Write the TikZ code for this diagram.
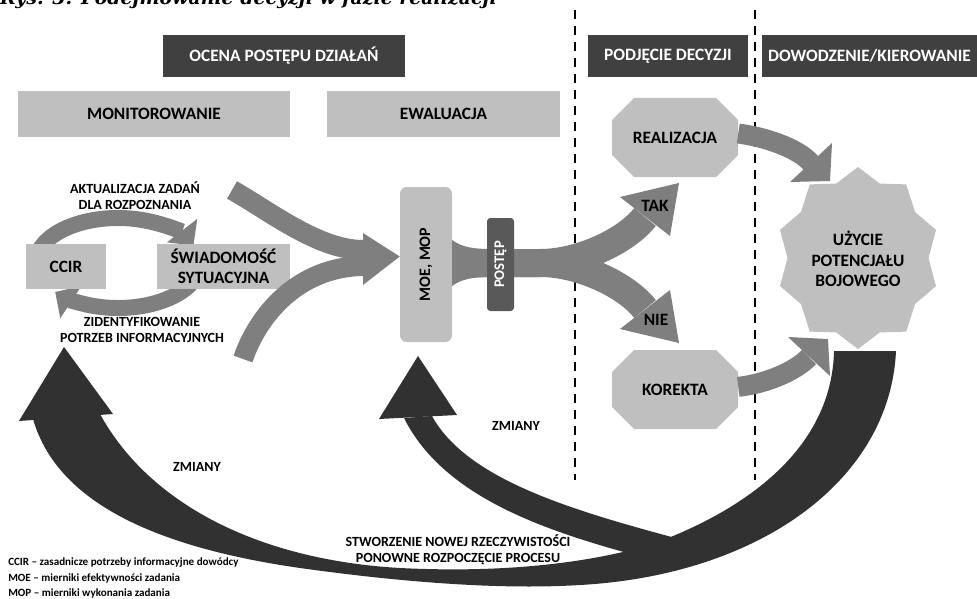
\documentclass[tikz,border=0pt]{standalone}
\usepackage{fontspec}
\setmainfont{Carlito}
\newfontfamily\titlefont{DejaVu Serif}
\usetikzlibrary{arrows.meta}
\definecolor{hdr}{HTML}{404040}
\definecolor{boxg}{HTML}{BFBFBF}
\definecolor{arrg}{HTML}{7F7F7F}
\definecolor{darka}{HTML}{323132}
\definecolor{postc}{HTML}{595959}
\begin{document}
\begin{tikzpicture}[x=0.75pt,y=-0.75pt,
  hdrbox/.style={fill=hdr, text=white, inner sep=0pt, minimum height=31.5pt, font=\bfseries\fontsize{13}{15}\selectfont},
  graybox/.style={fill=boxg, inner sep=0pt, minimum height=34.5pt, align=center, font=\bfseries\fontsize{13}{15}\selectfont},
  bigtxt/.style={inner sep=0pt, align=center, font=\bfseries\fontsize{13}{15.4}\selectfont},
  lbl/.style={inner sep=0pt, align=center, font=\bfseries\fontsize{10.5}{12}\selectfont},
  legend/.style={inner sep=0pt, anchor=west, font=\bfseries\fontsize{8.3}{9.5}\selectfont},
  dashln/.style={line width=1.5pt, dash pattern=on 6.75pt off 5.25pt},
  gband/.style={draw=arrg, line width=15pt}]
\useasboundingbox (0,0) rectangle (977,599);
% title (cropped at top in the reference)
\node[anchor=base east, inner sep=0pt, font=\titlefont\bfseries\itshape\fontsize{14.2}{17}\selectfont] (title) at (497,5) {Rys. 3. Podejmowanie decyzji w fazie realizacji};
% dashed separators
\coordinate (d1a) at (575,10); \coordinate (d1b) at (575,480);
\coordinate (d2a) at (755,10); \coordinate (d2b) at (755,480);
\draw[dashln] (d1a) -- (d1b);
\draw[dashln] (d2a) -- (d2b);
% headers
\node[hdrbox, minimum width=181.5pt] (ocena) at (284,56) {OCENA POSTĘPU DZIAŁAŃ};
\node[hdrbox, minimum width=120pt] (podj) at (668,56) {PODJĘCIE DECYZJI};
\node[hdrbox, minimum width=161.25pt] (dow) at (869.5,56) {DOWODZENIE/KIEROWANIE};
\node[graybox, minimum width=204pt] (mon) at (154,114) {MONITOROWANIE};
\node[graybox, minimum width=174.75pt] (ewa) at (443.5,114) {EWALUACJA};
% cycle arrows
\coordinate (cyc) at (118,263);
\draw[arrg, line width=12pt, -{Triangle[length=14pt,width=28pt]}] (cyc) ++(195:82 and 45) arc[start angle=195, end angle=337, x radius=82, y radius=45];
\draw[arrg, line width=12pt, -{Triangle[length=14pt,width=28pt]}] (cyc) ++(20:82 and 45) arc[start angle=20, end angle=140, x radius=82, y radius=45];
\node[graybox, minimum width=60pt, minimum height=33.75pt] (ccir) at (66,266.5) {CCIR};
\node[graybox, minimum width=99.75pt, minimum height=33.75pt] (swiad) at (223.5,266.5) {ŚWIADOMOŚĆ\\SYTUACYJNA};
\node[lbl] (akt) at (135,196) {AKTUALIZACJA ZADAŃ\\DLA ROZPOZNANIA};
\node[lbl] (zid) at (142,330) {ZIDENTYFIKOWANIE\\POTRZEB INFORMACYJNYCH};
% MOE box
\node[fill=boxg, rounded corners=5pt, minimum width=39pt, minimum height=116.25pt, inner sep=0pt] (moe) at (426,264.5) {};
% converging arrows
\coordinate (in1) at (232,190);
\coordinate (in2) at (243,359);
\coordinate (m1) at (363,250);
\coordinate (m2) at (363,266);
\draw[gband] (in1) .. controls (268,210) and (318,250) .. (m1);
\draw[gband] (in2) .. controls (258,315) and (298,267) .. (m2);
\fill[arrg] (363,233) -- ([yshift=6pt]moe.west) -- (363,285) -- cycle;
% diverging band
\coordinate (div) at (452,263);
\coordinate (takb) at (645,217);
\coordinate (nieb) at (645,309);
\fill[arrg] (452,240) .. controls (462,247) and (472,249) .. (492,249) -- (492,277) .. controls (472,277) and (462,279) .. (452,286) -- cycle;
\draw[arrg, line width=21pt] (div) -- (540,263) .. controls (580,263) and (626.5,240.7) .. (takb);
\draw[arrg, line width=21pt] (div) -- (540,263) .. controls (580,263) and (626.5,285.3) .. (nieb);
\fill[arrg] (620,197) -- (679,183) -- (670,236) -- cycle;
\fill[arrg] (620,329) -- (679,343) -- (670,290) -- cycle;
\node[rotate=90, inner sep=0pt, font=\bfseries\fontsize{12}{14}\selectfont] (moet) at (moe.center) {MOE, MOP};
\node[fill=postc, rounded corners=2.5pt, minimum width=20.25pt, minimum height=69.75pt, inner sep=0pt] (post) at (500.5,264.5) {};
\node[rotate=90, text=white, inner sep=0pt, font=\bfseries\fontsize{11}{13}\selectfont] (postt) at (post.center) {POSTĘP};
\node[bigtxt] (tak) at (655,206) {TAK};
\node[bigtxt] (nie) at (656,320) {NIE};
% octagons
\fill[boxg] (634,98) -- (716,98) -- (738,120) -- (738,155) -- (716,177) -- (634,177) -- (612,155) -- (612,120) -- cycle;
\node[bigtxt, minimum width=94.5pt, minimum height=59.25pt] (real) at (675,137.5) {REALIZACJA};
\fill[boxg] (634,350) -- (716,350) -- (738,372) -- (738,407) -- (716,429) -- (634,429) -- (612,407) -- (612,372) -- cycle;
\node[bigtxt, minimum width=94.5pt, minimum height=59.25pt] (kor) at (675,389.5) {KOREKTA};
% star
\fill[boxg] plot[samples at={0,...,19}, variable=\k] ({858+82*(1-0.14*mod(\k,2))*cos(-90+18*\k)}, {258+91*(1-0.14*mod(\k,2))*sin(-90+18*\k)}) -- cycle;
\node[bigtxt] (star) at (858,259) {UŻYCIE\\POTENCJAŁU\\BOJOWEGO};
% gray arrows to star
\coordinate (realIn) at (811,163);
\coordinate (korIn) at (809,357);
\draw[gband] ([yshift=3pt]real.east) .. controls (765,137) and (797.6,148) .. (realIn);
\fill[arrg] (790,182) -- (832,143) -- (830,181) -- cycle;
\draw[gband] ([yshift=2pt]kor.east) .. controls (765,384) and (795.4,371.6) .. (korIn);
\fill[arrg] (788,337) -- (828,339) -- (830,376) -- cycle;
% dark crescent
\fill[darka] (100,414) -- (33,419) .. controls (55,495) and (140,545) .. (300,568) .. controls (400,582) and (500,590) .. (580,585) .. controls (760,575) and (890,480) .. (896,351) -- (834,351) .. controls (832,440) and (760,505) .. (650,545) .. controls (570,568) and (480,572) .. (400,568) .. controls (260,560) and (150,505) .. (100,414) -- cycle;
\fill[darka] (19,421) -- (64,347) -- (113,414) -- cycle;
% middle dark arrow
\fill[darka] (404,418) .. controls (450,510) and (580,540) .. (675,566) -- (705,546) .. controls (590,515) and (470,485) .. (432,416) -- cycle;
\fill[darka] (379,419) -- (418,356) -- (457,415) -- cycle;
% labels
\node[lbl] (zm1) at (197,467) {ZMIANY};
\node[lbl] (zm2) at (516,426) {ZMIANY};
\node[lbl] (stw) at (458,550) {STWORZENIE NOWEJ RZECZYWISTOŚCI\\PONOWNE ROZPOCZĘCIE PROCESU};
% legend
\node[legend] (lg1) at (8,563) {CCIR – zasadnicze potrzeby informacyjne dowódcy};
\node[legend] (lg2) at (8,578) {MOE – mierniki efektywności zadania};
\node[legend] (lg3) at (8,593) {MOP – mierniki wykonania zadania};
\end{tikzpicture}
\end{document}
